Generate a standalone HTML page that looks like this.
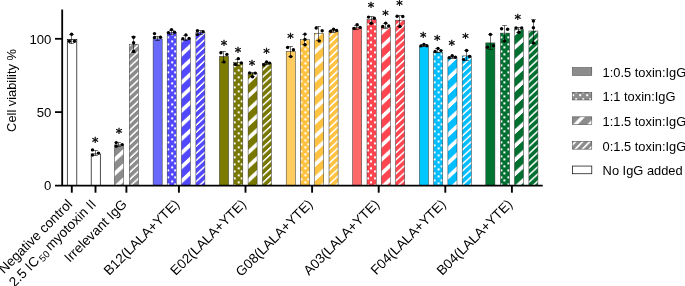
<!DOCTYPE html>
<html><head><meta charset="utf-8"><title>Cell viability</title>
<style>
html,body{margin:0;padding:0;background:#fff;overflow:hidden;}
svg{display:block;will-change:transform;font-family:"Liberation Sans",Arial,sans-serif;}
</style></head><body>
<svg width="685" height="286" viewBox="0 0 685 286">
<rect width="685" height="286" fill="#fff"/>
<defs>

<pattern id="dots-irr" width="7.0" height="7.0" patternUnits="userSpaceOnUse"><rect width="7.0" height="7.0" fill="#8c8c8c"/><rect x="3.60" y="1.90" width="2.0" height="2.0" fill="#fff" shape-rendering="crispEdges"/><rect x="0.10" y="-1.60" width="2.0" height="2.0" fill="#fff" shape-rendering="crispEdges"/><rect x="0.10" y="5.40" width="2.0" height="2.0" fill="#fff" shape-rendering="crispEdges"/></pattern>
<pattern id="wide-irr" width="50" height="14.080" patternUnits="userSpaceOnUse" patternTransform="skewY(-42.923)"><rect width="50" height="14.080" fill="#8c8c8c"/><rect y="14.068" width="50" height="5.100" fill="#fff"/><rect y="-0.012" width="50" height="5.100" fill="#fff"/></pattern>
<pattern id="narrow-irr" width="50" height="7.040" patternUnits="userSpaceOnUse" patternTransform="skewY(-42.923)"><rect width="50" height="7.040" fill="#8c8c8c"/><rect y="0.448" width="50" height="2.100" fill="#fff"/></pattern>
<pattern id="dots-B12" width="7.0" height="7.0" patternUnits="userSpaceOnUse"><rect width="7.0" height="7.0" fill="#5248ff"/><rect x="3.70" y="1.90" width="2.0" height="2.0" fill="#fff" shape-rendering="crispEdges"/><rect x="0.20" y="-1.60" width="2.0" height="2.0" fill="#fff" shape-rendering="crispEdges"/><rect x="0.20" y="5.40" width="2.0" height="2.0" fill="#fff" shape-rendering="crispEdges"/></pattern>
<pattern id="wide-B12" width="50" height="14.080" patternUnits="userSpaceOnUse" patternTransform="skewY(-42.923)"><rect width="50" height="14.080" fill="#5248ff"/><rect y="7.388" width="50" height="5.100" fill="#fff"/></pattern>
<pattern id="narrow-B12" width="50" height="7.040" patternUnits="userSpaceOnUse" patternTransform="skewY(-42.923)"><rect width="50" height="7.040" fill="#5248ff"/><rect y="2.348" width="50" height="2.100" fill="#fff"/></pattern>
<pattern id="dots-E02" width="7.0" height="7.0" patternUnits="userSpaceOnUse"><rect width="7.0" height="7.0" fill="#787800"/><rect x="3.60" y="2.80" width="2.0" height="2.0" fill="#fff" shape-rendering="crispEdges"/><rect x="0.10" y="-0.70" width="2.0" height="2.0" fill="#fff" shape-rendering="crispEdges"/><rect x="0.10" y="6.30" width="2.0" height="2.0" fill="#fff" shape-rendering="crispEdges"/></pattern>
<pattern id="wide-E02" width="50" height="14.080" patternUnits="userSpaceOnUse" patternTransform="skewY(-42.923)"><rect width="50" height="14.080" fill="#787800"/><rect y="6.888" width="50" height="5.100" fill="#fff"/></pattern>
<pattern id="narrow-E02" width="50" height="7.040" patternUnits="userSpaceOnUse" patternTransform="skewY(-42.923)"><rect width="50" height="7.040" fill="#787800"/><rect y="3.648" width="50" height="2.100" fill="#fff"/></pattern>
<pattern id="dots-G08" width="7.0" height="7.0" patternUnits="userSpaceOnUse"><rect width="7.0" height="7.0" fill="#ffc341"/><rect x="3.60" y="3.30" width="2.0" height="2.0" fill="#fff" shape-rendering="crispEdges"/><rect x="0.10" y="-0.20" width="2.0" height="2.0" fill="#fff" shape-rendering="crispEdges"/><rect x="0.10" y="6.80" width="2.0" height="2.0" fill="#fff" shape-rendering="crispEdges"/></pattern>
<pattern id="wide-G08" width="50" height="14.080" patternUnits="userSpaceOnUse" patternTransform="skewY(-42.923)"><rect width="50" height="14.080" fill="#ffc341"/><rect y="5.188" width="50" height="5.100" fill="#fff"/></pattern>
<pattern id="narrow-G08" width="50" height="7.020" patternUnits="userSpaceOnUse" patternTransform="skewY(-42.923)"><rect width="50" height="7.020" fill="#ffc341"/><rect y="5.028" width="50" height="2.100" fill="#fff"/><rect y="-1.992" width="50" height="2.100" fill="#fff"/></pattern>
<pattern id="dots-A03" width="7.0" height="7.0" patternUnits="userSpaceOnUse"><rect width="7.0" height="7.0" fill="#ff4650"/><rect x="3.30" y="2.60" width="2.0" height="2.0" fill="#fff" shape-rendering="crispEdges"/><rect x="-0.20" y="-0.90" width="2.0" height="2.0" fill="#fff" shape-rendering="crispEdges"/><rect x="-0.20" y="6.10" width="2.0" height="2.0" fill="#fff" shape-rendering="crispEdges"/><rect x="6.80" y="-0.90" width="2.0" height="2.0" fill="#fff" shape-rendering="crispEdges"/><rect x="6.80" y="6.10" width="2.0" height="2.0" fill="#fff" shape-rendering="crispEdges"/></pattern>
<pattern id="wide-A03" width="50" height="14.080" patternUnits="userSpaceOnUse" patternTransform="skewY(-42.923)"><rect width="50" height="14.080" fill="#ff4650"/><rect y="13.918" width="50" height="5.100" fill="#fff"/><rect y="-0.162" width="50" height="5.100" fill="#fff"/></pattern>
<pattern id="narrow-A03" width="50" height="7.040" patternUnits="userSpaceOnUse" patternTransform="skewY(-42.923)"><rect width="50" height="7.040" fill="#ff4650"/><rect y="1.648" width="50" height="2.100" fill="#fff"/></pattern>
<pattern id="dots-F04" width="7.0" height="7.0" patternUnits="userSpaceOnUse"><rect width="7.0" height="7.0" fill="#00beff"/><rect x="3.50" y="4.00" width="2.0" height="2.0" fill="#fff" shape-rendering="crispEdges"/><rect x="0.00" y="0.50" width="2.0" height="2.0" fill="#fff" shape-rendering="crispEdges"/></pattern>
<pattern id="wide-F04" width="50" height="14.080" patternUnits="userSpaceOnUse" patternTransform="skewY(-42.923)"><rect width="50" height="14.080" fill="#00beff"/><rect y="3.288" width="50" height="5.100" fill="#fff"/></pattern>
<pattern id="narrow-F04" width="50" height="7.010" patternUnits="userSpaceOnUse" patternTransform="skewY(-42.923)"><rect width="50" height="7.010" fill="#00beff"/><rect y="5.718" width="50" height="2.100" fill="#fff"/><rect y="-1.292" width="50" height="2.100" fill="#fff"/></pattern>
<pattern id="dots-B04" width="7.0" height="7.0" patternUnits="userSpaceOnUse"><rect width="7.0" height="7.0" fill="#007030"/><rect x="3.00" y="1.40" width="2.0" height="2.0" fill="#fff" shape-rendering="crispEdges"/><rect x="-0.50" y="4.90" width="2.0" height="2.0" fill="#fff" shape-rendering="crispEdges"/><rect x="6.50" y="4.90" width="2.0" height="2.0" fill="#fff" shape-rendering="crispEdges"/></pattern>
<pattern id="wide-B04" width="50" height="14.080" patternUnits="userSpaceOnUse" patternTransform="skewY(-42.923)"><rect width="50" height="14.080" fill="#007030"/><rect y="0.538" width="50" height="5.100" fill="#fff"/></pattern>
<pattern id="narrow-B04" width="50" height="7.140" patternUnits="userSpaceOnUse" patternTransform="skewY(-42.923)"><rect width="50" height="7.140" fill="#007030"/><rect y="2.948" width="50" height="2.100" fill="#fff"/></pattern>
<pattern id="dots-leg" width="7.0" height="7.0" patternUnits="userSpaceOnUse"><rect width="7.0" height="7.0" fill="#8c8c8c"/><rect x="3.20" y="4.80" width="2.0" height="2.0" fill="#fff" shape-rendering="crispEdges"/><rect x="-0.30" y="1.35" width="2.0" height="2.0" fill="#fff" shape-rendering="crispEdges"/><rect x="6.70" y="1.35" width="2.0" height="2.0" fill="#fff" shape-rendering="crispEdges"/></pattern>
<pattern id="wide-leg" width="50" height="14.600" patternUnits="userSpaceOnUse" patternTransform="skewY(-45.847)"><rect width="50" height="14.600" fill="#8c8c8c"/><rect y="0.600" width="50" height="4.800" fill="#fff"/></pattern>
<pattern id="narrow-leg" width="50" height="7.300" patternUnits="userSpaceOnUse" patternTransform="skewY(-45.847)"><rect width="50" height="7.300" fill="#8c8c8c"/><rect y="1.700" width="50" height="2.500" fill="#fff"/></pattern>
</defs>

<g transform="translate(67.30,185.4)"><rect x="0" y="-146.00" width="9.50" height="146.00" fill="#fff" stroke="#000" stroke-width="0.7"/></g>
<path d="M71.50 34.50V43.50M69.10 34.50h4.8M69.10 43.50h4.8" stroke="#000" stroke-width="0.55" fill="none"/>
<circle cx="71.60" cy="34.30" r="1.7" fill="#000"/>
<circle cx="69.40" cy="41.30" r="1.7" fill="#000"/>
<circle cx="74.50" cy="41.30" r="1.7" fill="#000"/>
<g transform="translate(91.20,185.4)"><rect x="0" y="-31.50" width="9.10" height="31.50" fill="#fff" stroke="#000" stroke-width="0.7"/></g>
<path d="M95.50 150.50V155.50M93.10 150.50h4.8M93.10 155.50h4.8" stroke="#000" stroke-width="0.55" fill="none"/>
<circle cx="92.50" cy="149.90" r="1.7" fill="#000"/>
<circle cx="92.50" cy="155.10" r="1.7" fill="#000"/>
<circle cx="98.50" cy="153.10" r="1.7" fill="#000"/>
<text x="95.20" y="145.80" font-size="13" font-family="DejaVu Sans, sans-serif" text-anchor="middle" stroke="#000" stroke-width="0.35">*</text>
<g transform="translate(114.50,185.4)"><rect x="0" y="-40.50" width="9.00" height="40.50" fill="url(#wide-irr)" stroke="#333" stroke-width="0.5"/></g>
<path d="M118.50 142.50V146.50M116.10 142.50h4.8M116.10 146.50h4.8" stroke="#000" stroke-width="0.55" fill="none"/>
<circle cx="116.20" cy="142.60" r="1.7" fill="#000"/>
<circle cx="116.20" cy="146.20" r="1.7" fill="#000"/>
<circle cx="122.20" cy="144.60" r="1.7" fill="#000"/>
<text x="119.00" y="137.30" font-size="13" font-family="DejaVu Sans, sans-serif" text-anchor="middle" stroke="#000" stroke-width="0.35">*</text>
<g transform="translate(129.30,185.4)"><rect x="0" y="-141.20" width="9.10" height="141.20" fill="url(#narrow-irr)" stroke="#333" stroke-width="0.5"/></g>
<path d="M133.50 36.50V52.50M131.10 36.50h4.8M131.10 52.50h4.8" stroke="#000" stroke-width="0.55" fill="none"/>
<circle cx="133.60" cy="37.20" r="1.7" fill="#000"/>
<circle cx="133.60" cy="42.70" r="1.7" fill="#000"/>
<circle cx="133.60" cy="51.30" r="1.7" fill="#000"/>
<g transform="translate(153.10,185.4)"><rect x="0" y="-146.50" width="9.10" height="146.50" fill="#6868fa" stroke="#333" stroke-width="0.5"/></g>
<path d="M157.50 36.50V40.50M155.10 36.50h4.8M155.10 40.50h4.8" stroke="#000" stroke-width="0.55" fill="none"/>
<circle cx="154.50" cy="33.60" r="1.7" fill="#000"/>
<circle cx="154.50" cy="37.50" r="1.7" fill="#000"/>
<circle cx="160.50" cy="37.30" r="1.7" fill="#000"/>
<g transform="translate(167.20,185.4)"><rect x="0" y="-152.70" width="9.00" height="152.70" fill="url(#dots-B12)" stroke="#333" stroke-width="0.5"/></g>
<path d="M171.50 30.50V34.50M169.10 30.50h4.8M169.10 34.50h4.8" stroke="#000" stroke-width="0.55" fill="none"/>
<circle cx="168.40" cy="32.70" r="1.7" fill="#000"/>
<circle cx="171.50" cy="29.60" r="1.7" fill="#000"/>
<circle cx="174.50" cy="32.20" r="1.7" fill="#000"/>
<g transform="translate(181.40,185.4)"><rect x="0" y="-146.00" width="9.00" height="146.00" fill="url(#wide-B12)" stroke="#333" stroke-width="0.5"/></g>
<path d="M185.50 35.50V40.50M183.10 35.50h4.8M183.10 40.50h4.8" stroke="#000" stroke-width="0.55" fill="none"/>
<circle cx="182.90" cy="38.70" r="1.7" fill="#000"/>
<circle cx="185.90" cy="34.90" r="1.7" fill="#000"/>
<circle cx="189.10" cy="38.40" r="1.7" fill="#000"/>
<g transform="translate(195.90,185.4)"><rect x="0" y="-153.00" width="9.00" height="153.00" fill="url(#narrow-B12)" stroke="#333" stroke-width="0.5"/></g>
<path d="M200.50 30.50V34.50M198.10 30.50h4.8M198.10 34.50h4.8" stroke="#000" stroke-width="0.55" fill="none"/>
<circle cx="197.40" cy="30.80" r="1.7" fill="#000"/>
<circle cx="197.40" cy="34.60" r="1.7" fill="#000"/>
<circle cx="203.10" cy="31.80" r="1.7" fill="#000"/>
<g transform="translate(219.40,185.4)"><rect x="0" y="-129.00" width="9.20" height="129.00" fill="#7b7b00" stroke="#333" stroke-width="0.5"/></g>
<path d="M223.50 51.50V62.50M221.10 51.50h4.8M221.10 62.50h4.8" stroke="#000" stroke-width="0.55" fill="none"/>
<circle cx="220.90" cy="52.70" r="1.7" fill="#000"/>
<circle cx="226.90" cy="54.40" r="1.7" fill="#000"/>
<circle cx="223.90" cy="61.90" r="1.7" fill="#000"/>
<text x="223.90" y="48.70" font-size="13" font-family="DejaVu Sans, sans-serif" text-anchor="middle" stroke="#000" stroke-width="0.35">*</text>
<g transform="translate(233.70,185.4)"><rect x="0" y="-123.00" width="9.10" height="123.00" fill="url(#dots-E02)" stroke="#333" stroke-width="0.5"/></g>
<path d="M237.50 59.50V65.50M235.10 59.50h4.8M235.10 65.50h4.8" stroke="#000" stroke-width="0.55" fill="none"/>
<circle cx="238.30" cy="58.60" r="1.7" fill="#000"/>
<circle cx="235.30" cy="64.40" r="1.7" fill="#000"/>
<circle cx="241.30" cy="62.90" r="1.7" fill="#000"/>
<text x="238.10" y="55.60" font-size="13" font-family="DejaVu Sans, sans-serif" text-anchor="middle" stroke="#000" stroke-width="0.35">*</text>
<g transform="translate(248.10,185.4)"><rect x="0" y="-112.00" width="9.00" height="112.00" fill="url(#wide-E02)" stroke="#333" stroke-width="0.5"/></g>
<path d="M252.50 72.50V76.50M250.10 72.50h4.8M250.10 76.50h4.8" stroke="#000" stroke-width="0.55" fill="none"/>
<circle cx="249.60" cy="72.90" r="1.7" fill="#000"/>
<circle cx="255.30" cy="73.10" r="1.7" fill="#000"/>
<circle cx="252.50" cy="76.70" r="1.7" fill="#000"/>
<text x="252.00" y="68.70" font-size="13" font-family="DejaVu Sans, sans-serif" text-anchor="middle" stroke="#000" stroke-width="0.35">*</text>
<g transform="translate(262.40,185.4)"><rect x="0" y="-122.00" width="9.00" height="122.00" fill="url(#narrow-E02)" stroke="#333" stroke-width="0.5"/></g>
<path d="M266.50 62.50V64.50M264.10 62.50h4.8M264.10 64.50h4.8" stroke="#000" stroke-width="0.55" fill="none"/>
<circle cx="263.80" cy="64.70" r="1.7" fill="#000"/>
<circle cx="266.60" cy="61.90" r="1.7" fill="#000"/>
<circle cx="269.60" cy="63.10" r="1.7" fill="#000"/>
<text x="266.40" y="57.20" font-size="13" font-family="DejaVu Sans, sans-serif" text-anchor="middle" stroke="#000" stroke-width="0.35">*</text>
<g transform="translate(286.20,185.4)"><rect x="0" y="-134.10" width="9.20" height="134.10" fill="#ffcd5f" stroke="#333" stroke-width="0.5"/></g>
<path d="M290.50 46.50V56.50M288.10 46.50h4.8M288.10 56.50h4.8" stroke="#000" stroke-width="0.55" fill="none"/>
<circle cx="287.60" cy="47.40" r="1.7" fill="#000"/>
<circle cx="293.40" cy="49.80" r="1.7" fill="#000"/>
<circle cx="290.80" cy="56.60" r="1.7" fill="#000"/>
<text x="290.40" y="42.20" font-size="13" font-family="DejaVu Sans, sans-serif" text-anchor="middle" stroke="#000" stroke-width="0.35">*</text>
<g transform="translate(300.40,185.4)"><rect x="0" y="-146.00" width="9.10" height="146.00" fill="url(#dots-G08)" stroke="#333" stroke-width="0.5"/></g>
<path d="M304.50 34.50V44.50M302.10 34.50h4.8M302.10 44.50h4.8" stroke="#000" stroke-width="0.55" fill="none"/>
<circle cx="305.00" cy="34.10" r="1.7" fill="#000"/>
<circle cx="305.00" cy="39.40" r="1.7" fill="#000"/>
<circle cx="305.00" cy="44.70" r="1.7" fill="#000"/>
<g transform="translate(314.60,185.4)"><rect x="0" y="-152.00" width="9.10" height="152.00" fill="url(#wide-G08)" stroke="#333" stroke-width="0.5"/></g>
<path d="M318.50 26.50V40.50M316.10 26.50h4.8M316.10 40.50h4.8" stroke="#000" stroke-width="0.55" fill="none"/>
<circle cx="316.20" cy="28.00" r="1.7" fill="#000"/>
<circle cx="322.20" cy="30.70" r="1.7" fill="#000"/>
<circle cx="319.20" cy="40.90" r="1.7" fill="#000"/>
<g transform="translate(329.00,185.4)"><rect x="0" y="-154.40" width="9.10" height="154.40" fill="url(#narrow-G08)" stroke="#333" stroke-width="0.5"/></g>
<path d="M333.50 29.50V32.50M331.10 29.50h4.8M331.10 32.50h4.8" stroke="#000" stroke-width="0.55" fill="none"/>
<circle cx="330.60" cy="31.20" r="1.7" fill="#000"/>
<circle cx="333.60" cy="29.20" r="1.7" fill="#000"/>
<circle cx="336.60" cy="30.50" r="1.7" fill="#000"/>
<g transform="translate(352.60,185.4)"><rect x="0" y="-157.60" width="9.10" height="157.60" fill="#ff6969" stroke="#333" stroke-width="0.5"/></g>
<path d="M356.50 25.50V29.50M354.10 25.50h4.8M354.10 29.50h4.8" stroke="#000" stroke-width="0.55" fill="none"/>
<circle cx="354.10" cy="28.40" r="1.7" fill="#000"/>
<circle cx="357.10" cy="24.70" r="1.7" fill="#000"/>
<circle cx="360.10" cy="27.40" r="1.7" fill="#000"/>
<g transform="translate(367.00,185.4)"><rect x="0" y="-165.70" width="9.20" height="165.70" fill="url(#dots-A03)" stroke="#333" stroke-width="0.5"/></g>
<path d="M371.50 16.50V23.50M369.10 16.50h4.8M369.10 23.50h4.8" stroke="#000" stroke-width="0.55" fill="none"/>
<circle cx="368.50" cy="17.10" r="1.7" fill="#000"/>
<circle cx="374.30" cy="18.20" r="1.7" fill="#000"/>
<circle cx="371.30" cy="23.30" r="1.7" fill="#000"/>
<text x="371.00" y="10.80" font-size="13" font-family="DejaVu Sans, sans-serif" text-anchor="middle" stroke="#000" stroke-width="0.35">*</text>
<g transform="translate(381.40,185.4)"><rect x="0" y="-158.00" width="9.10" height="158.00" fill="url(#wide-A03)" stroke="#333" stroke-width="0.5"/></g>
<path d="M385.50 23.50V28.50M383.10 23.50h4.8M383.10 28.50h4.8" stroke="#000" stroke-width="0.55" fill="none"/>
<circle cx="382.70" cy="26.40" r="1.7" fill="#000"/>
<circle cx="385.70" cy="23.10" r="1.7" fill="#000"/>
<circle cx="388.70" cy="25.90" r="1.7" fill="#000"/>
<text x="385.40" y="19.00" font-size="13" font-family="DejaVu Sans, sans-serif" text-anchor="middle" stroke="#000" stroke-width="0.35">*</text>
<g transform="translate(395.60,185.4)"><rect x="0" y="-165.20" width="9.10" height="165.20" fill="url(#narrow-A03)" stroke="#333" stroke-width="0.5"/></g>
<path d="M399.50 15.50V26.50M397.10 15.50h4.8M397.10 26.50h4.8" stroke="#000" stroke-width="0.55" fill="none"/>
<circle cx="397.10" cy="16.20" r="1.7" fill="#000"/>
<circle cx="402.80" cy="16.50" r="1.7" fill="#000"/>
<circle cx="399.90" cy="26.40" r="1.7" fill="#000"/>
<text x="399.60" y="9.10" font-size="13" font-family="DejaVu Sans, sans-serif" text-anchor="middle" stroke="#000" stroke-width="0.35">*</text>
<g transform="translate(419.40,185.4)"><rect x="0" y="-139.00" width="9.10" height="139.00" fill="#00c8ff" stroke="#333" stroke-width="0.5"/></g>
<path d="M423.50 44.50V46.50M421.10 44.50h4.8M421.10 46.50h4.8" stroke="#000" stroke-width="0.55" fill="none"/>
<circle cx="420.90" cy="45.90" r="1.7" fill="#000"/>
<circle cx="423.90" cy="44.40" r="1.7" fill="#000"/>
<circle cx="426.90" cy="45.70" r="1.7" fill="#000"/>
<text x="423.20" y="40.60" font-size="13" font-family="DejaVu Sans, sans-serif" text-anchor="middle" stroke="#000" stroke-width="0.35">*</text>
<g transform="translate(433.60,185.4)"><rect x="0" y="-133.10" width="9.10" height="133.10" fill="url(#dots-F04)" stroke="#333" stroke-width="0.5"/></g>
<path d="M437.50 48.50V52.50M435.10 48.50h4.8M435.10 52.50h4.8" stroke="#000" stroke-width="0.55" fill="none"/>
<circle cx="435.10" cy="51.40" r="1.7" fill="#000"/>
<circle cx="438.00" cy="48.40" r="1.7" fill="#000"/>
<circle cx="441.00" cy="50.60" r="1.7" fill="#000"/>
<text x="437.30" y="43.50" font-size="13" font-family="DejaVu Sans, sans-serif" text-anchor="middle" stroke="#000" stroke-width="0.35">*</text>
<g transform="translate(447.90,185.4)"><rect x="0" y="-127.50" width="9.10" height="127.50" fill="url(#wide-F04)" stroke="#333" stroke-width="0.5"/></g>
<path d="M452.50 56.50V58.50M450.10 56.50h4.8M450.10 58.50h4.8" stroke="#000" stroke-width="0.55" fill="none"/>
<circle cx="449.20" cy="57.70" r="1.7" fill="#000"/>
<circle cx="452.20" cy="55.70" r="1.7" fill="#000"/>
<circle cx="455.40" cy="57.30" r="1.7" fill="#000"/>
<text x="451.70" y="48.50" font-size="13" font-family="DejaVu Sans, sans-serif" text-anchor="middle" stroke="#000" stroke-width="0.35">*</text>
<g transform="translate(462.20,185.4)"><rect x="0" y="-129.50" width="9.10" height="129.50" fill="url(#narrow-F04)" stroke="#333" stroke-width="0.5"/></g>
<path d="M466.50 50.50V60.50M464.10 50.50h4.8M464.10 60.50h4.8" stroke="#000" stroke-width="0.55" fill="none"/>
<circle cx="466.60" cy="50.50" r="1.7" fill="#000"/>
<circle cx="469.60" cy="56.50" r="1.7" fill="#000"/>
<circle cx="463.60" cy="59.60" r="1.7" fill="#000"/>
<text x="465.60" y="42.30" font-size="13" font-family="DejaVu Sans, sans-serif" text-anchor="middle" stroke="#000" stroke-width="0.35">*</text>
<g transform="translate(485.80,185.4)"><rect x="0" y="-142.50" width="9.10" height="142.50" fill="#007532" stroke="#333" stroke-width="0.5"/></g>
<path d="M490.50 34.50V49.50M488.10 34.50h4.8M488.10 49.50h4.8" stroke="#000" stroke-width="0.55" fill="none"/>
<circle cx="490.40" cy="34.40" r="1.7" fill="#000"/>
<circle cx="487.40" cy="47.30" r="1.7" fill="#000"/>
<circle cx="493.40" cy="45.80" r="1.7" fill="#000"/>
<g transform="translate(500.40,185.4)"><rect x="0" y="-152.30" width="9.20" height="152.30" fill="url(#dots-B04)" stroke="#333" stroke-width="0.5"/></g>
<path d="M504.50 25.50V41.50M502.10 25.50h4.8M502.10 41.50h4.8" stroke="#000" stroke-width="0.55" fill="none"/>
<circle cx="501.60" cy="28.70" r="1.7" fill="#000"/>
<circle cx="507.60" cy="29.20" r="1.7" fill="#000"/>
<circle cx="504.60" cy="40.90" r="1.7" fill="#000"/>
<g transform="translate(514.50,185.4)"><rect x="0" y="-155.70" width="9.00" height="155.70" fill="url(#wide-B04)" stroke="#333" stroke-width="0.5"/></g>
<path d="M518.50 27.50V32.50M516.10 27.50h4.8M516.10 32.50h4.8" stroke="#000" stroke-width="0.55" fill="none"/>
<circle cx="516.00" cy="27.90" r="1.7" fill="#000"/>
<circle cx="521.70" cy="27.90" r="1.7" fill="#000"/>
<circle cx="518.90" cy="32.30" r="1.7" fill="#000"/>
<text x="517.70" y="22.60" font-size="13" font-family="DejaVu Sans, sans-serif" text-anchor="middle" stroke="#000" stroke-width="0.35">*</text>
<g transform="translate(528.90,185.4)"><rect x="0" y="-154.40" width="9.00" height="154.40" fill="url(#narrow-B04)" stroke="#333" stroke-width="0.5"/></g>
<path d="M533.50 19.50V43.50M531.10 19.50h4.8M531.10 43.50h4.8" stroke="#000" stroke-width="0.55" fill="none"/>
<circle cx="533.40" cy="21.10" r="1.7" fill="#000"/>
<circle cx="533.40" cy="27.70" r="1.7" fill="#000"/>
<circle cx="533.40" cy="43.00" r="1.7" fill="#000"/>


<path d="M62.2 9.6V186.5M55 185.6H542.7" stroke="#000" stroke-width="1.8" fill="none"/>
<path d="M55 112.10H62.2" stroke="#000" stroke-width="1.8"/>
<path d="M55 38.80H62.2" stroke="#000" stroke-width="1.8"/>
<path d="M71.8 185.4V192.7" stroke="#000" stroke-width="1.9"/>
<path d="M95.5 185.4V192.7" stroke="#000" stroke-width="1.9"/>
<path d="M126.4 185.4V192.7" stroke="#000" stroke-width="1.9"/>
<path d="M178.9 185.4V192.7" stroke="#000" stroke-width="1.9"/>
<path d="M245.5 185.4V192.7" stroke="#000" stroke-width="1.9"/>
<path d="M312.1 185.4V192.7" stroke="#000" stroke-width="1.9"/>
<path d="M378.7 185.4V192.7" stroke="#000" stroke-width="1.9"/>
<path d="M445.3 185.4V192.7" stroke="#000" stroke-width="1.9"/>
<path d="M511.9 185.4V192.7" stroke="#000" stroke-width="1.9"/>
<text x="51.4" y="190.40" font-size="13.15" text-anchor="end">0</text>
<text x="51.4" y="117.10" font-size="13.15" text-anchor="end">50</text>
<text x="51.4" y="43.80" font-size="13.15" text-anchor="end">100</text>
<text transform="translate(16,90.5) rotate(-90)" font-size="12.85" text-anchor="middle">Cell viability %</text>
<text transform="translate(73.20,205) rotate(-45)" font-size="13.55" text-anchor="end">Negative control</text>
<text transform="translate(96.90,205) rotate(-45)" font-size="13.55" text-anchor="end">2.5 IC<tspan font-size="9.8" dy="2.5" dx="1.6">50</tspan><tspan dy="-2.5" dx="-1.4"> myotoxin II</tspan></text>
<text transform="translate(127.80,205) rotate(-45)" font-size="13.55" text-anchor="end">Irrelevant IgG</text>
<text transform="translate(180.30,205) rotate(-45)" font-size="13.55" text-anchor="end">B12(LALA+YTE)</text>
<text transform="translate(246.90,205) rotate(-45)" font-size="13.55" text-anchor="end">E02(LALA+YTE)</text>
<text transform="translate(313.50,205) rotate(-45)" font-size="13.55" text-anchor="end">G08(LALA+YTE)</text>
<text transform="translate(380.10,205) rotate(-45)" font-size="13.55" text-anchor="end">A03(LALA+YTE)</text>
<text transform="translate(446.70,205) rotate(-45)" font-size="13.55" text-anchor="end">F04(LALA+YTE)</text>
<text transform="translate(513.30,205) rotate(-45)" font-size="13.55" text-anchor="end">B04(LALA+YTE)</text>
<g transform="translate(572.2,75.60)"><rect x="0.3" y="-7.95" width="19.3" height="7.7" fill="#8c8c8c" stroke="#333" stroke-width="0.5"/></g>
<text x="602.6" y="76.80" font-size="12.87">1:0.5 toxin:IgG</text>
<g transform="translate(572.2,100.20)"><rect x="0.3" y="-7.95" width="19.3" height="7.7" fill="url(#dots-leg)" stroke="#333" stroke-width="0.5"/></g>
<text x="602.6" y="101.40" font-size="12.87">1:1 toxin:IgG</text>
<g transform="translate(572.2,124.80)"><rect x="0.3" y="-7.95" width="19.3" height="7.7" fill="url(#wide-leg)" stroke="#333" stroke-width="0.5"/></g>
<text x="602.6" y="126.00" font-size="12.87">1:1.5 toxin:IgG</text>
<g transform="translate(572.2,149.40)"><rect x="0.3" y="-7.95" width="19.3" height="7.7" fill="url(#narrow-leg)" stroke="#333" stroke-width="0.5"/></g>
<text x="602.6" y="150.60" font-size="12.87">0:1.5 toxin:IgG</text>
<g transform="translate(572.2,174.00)"><rect x="0.3" y="-7.95" width="19.3" height="7.7" fill="#fff" stroke="#000" stroke-width="0.7"/></g>
<text x="602.6" y="175.20" font-size="12.87">No IgG added</text>
</svg></body></html>
